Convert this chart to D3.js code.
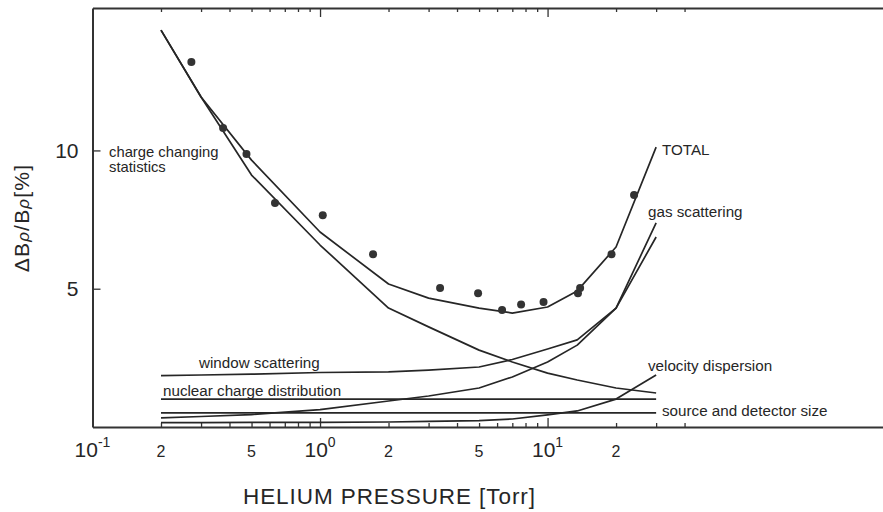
<!DOCTYPE html>
<html>
<head>
<meta charset="utf-8">
<script src="https://cdn.jsdelivr.net/npm/d3@7"></script>
<style>
  html, body { margin: 0; padding: 0; background: #fff; }
  svg { display: block; font-family: "Liberation Sans", Arial, Helvetica, sans-serif; }
</style>
</head>
<body>
<svg id="chart" width="883" height="512"></svg>
<script>
// ---------------- data ----------------
const pressure = [0.2, 0.3, 0.5, 1, 2, 3, 5, 7, 10, 13.5, 20, 30];           // Torr
const totalRes = [14.35, 11.93, 9.65, 7.05, 5.17, 4.66, 4.30, 4.12, 4.34, 4.92, 6.51, 10.12];
const chargeChanging = [14.35, 11.93, 9.11, 6.58, 4.30, 3.62, 2.78, 2.35, 1.95, 1.70, 1.41, 1.23];
const windowScattering = [1.86, 1.88, 1.91, 1.97, 1.99, 2.06, 2.17, 2.44, 2.82, 3.15, 4.30, 7.38];
const gasScattering = [0.33, 0.38, 0.45, 0.63, 0.94, 1.12, 1.41, 1.81, 2.35, 2.96, 4.30, 6.87];
const nuclearCharge = [1.01, 1.01, 1.01, 1.01, 1.01, 1.01, 1.01, 1.01, 1.01, 1.01, 1.01, 1.01];
const sourceDetector = [0.51, 0.51, 0.51, 0.51, 0.51, 0.51, 0.51, 0.51, 0.51, 0.51, 0.51, 0.51];
const velocityDispersion = [0.16, 0.16, 0.17, 0.17, 0.18, 0.20, 0.23, 0.29, 0.44, 0.58, 1.01, 1.88];

const measuredP = [0.272, 0.375, 0.475, 0.634, 1.028, 1.71, 3.37, 4.95, 6.31, 7.65, 9.6, 13.6, 13.9, 19.1, 24.0];
const measuredV = [13.20, 10.81, 9.87, 8.10, 7.66, 6.25, 5.03, 4.84, 4.23, 4.43, 4.52, 4.84, 5.03, 6.25, 8.39];

const xMinorTicks = [0.2, 0.3, 0.4, 0.5, 0.6, 0.7, 0.8, 0.9, 2, 3, 4, 5, 6, 7, 8, 9, 20, 30, 40];
const xMajorTicks = [1, 10];
const xDecadeLabels = [{v: 0.1, e: "-1"}, {v: 1, e: "0"}, {v: 10, e: "1"}];
const xDigitLabels = [{v: 0.2, t: "2"}, {v: 0.5, t: "5"}, {v: 2, t: "2"}, {v: 5, t: "5"}, {v: 20, t: "2"}];
const yTicks = [5, 10];

const seriesNames = ["TOTAL", "charge changing statistics", "window scattering", "gas scattering",
  "nuclear charge distribution", "source and detector size", "velocity dispersion"];
const seriesValues = [totalRes, chargeChanging, windowScattering, gasScattering,
  nuclearCharge, sourceDetector, velocityDispersion];

// ---------------- layout ----------------
const W = 883, H = 512;
const mLeft = 92.5, mTop = 8, mBottom = 427;
const ink = "#262626";

const x = d3.scaleLog().domain([0.1, 298]).range([mLeft, W]);
const y = d3.scaleLinear().domain([0, 15.15]).range([mBottom, mTop]);

const svg = d3.select("#chart");

// frame: left, top, bottom axes
const gBottom = svg.append("g").attr("transform", `translate(0,${mBottom})`);
gBottom.call(d3.axisBottom(x).tickValues(xMinorTicks).tickSize(-4).tickSizeOuter(0).tickFormat(""));
gBottom.append("g").call(d3.axisBottom(x).tickValues(xMajorTicks).tickSize(-9).tickSizeOuter(0).tickFormat(""))
  .select(".domain").remove();

const gTop = svg.append("g").attr("transform", `translate(0,${mTop})`);
gTop.call(d3.axisTop(x).tickValues(xMinorTicks).tickSize(-4).tickSizeOuter(0).tickFormat(""));
gTop.append("g").call(d3.axisTop(x).tickValues(xMajorTicks).tickSize(-9).tickSizeOuter(0).tickFormat(""))
  .select(".domain").remove();

const gLeft = svg.append("g").attr("transform", `translate(${mLeft},0)`);
gLeft.call(d3.axisLeft(y).tickValues(yTicks).tickSize(-8).tickSizeOuter(0).tickPadding(14).tickFormat(d3.format("d")));
gLeft.selectAll("text").attr("font-size", 21).attr("fill", ink)
  .attr("font-family", '"Liberation Sans", Arial, sans-serif');

svg.selectAll(".domain").attr("stroke", "#333").attr("stroke-width", 2);
svg.selectAll(".tick line").attr("stroke", "#333").attr("stroke-width", 1.3);

// x tick labels
xDecadeLabels.forEach(d => {
  const t = svg.append("text").attr("x", x(d.v)).attr("y", 457)
    .attr("text-anchor", "middle").attr("font-size", 21).attr("fill", ink);
  t.append("tspan").text("10");
  t.append("tspan").attr("dy", -10).attr("font-size", 14).text(d.e);
});
xDigitLabels.forEach(d => {
  svg.append("text").attr("x", x(d.v)).attr("y", 457)
    .attr("text-anchor", "middle").attr("font-size", 16).attr("fill", ink).text(d.t);
});

// axis titles
svg.append("text").attr("x", 243).attr("y", 504)
  .attr("font-size", 22.5).attr("fill", ink)
  .attr("textLength", 292).attr("lengthAdjust", "spacing")
  .text("HELIUM PRESSURE [Torr]");

const yt = svg.append("text")
  .attr("transform", "translate(29,218) rotate(-90)")
  .attr("text-anchor", "middle").attr("font-size", 21).attr("fill", ink)
  .attr("letter-spacing", 1.2);
yt.append("tspan").text("ΔB");
yt.append("tspan").attr("font-style", "italic").attr("font-size", 17).text("ρ");
yt.append("tspan").text("/B");
yt.append("tspan").attr("font-style", "italic").attr("font-size", 17).text("ρ");
yt.append("tspan").text("[%]");

// curves
const line = d3.line().x((d, i) => x(pressure[i])).y(d => y(d));
svg.append("g").selectAll("path").data(seriesValues).join("path")
  .attr("d", d => line(d))
  .attr("fill", "none").attr("stroke", ink).attr("stroke-width", 1.7)
  .attr("stroke-linejoin", "round")
  .attr("data-name", (d, i) => seriesNames[i]);

// measured points
svg.append("g").selectAll("circle").data(measuredP).join("circle")
  .attr("cx", d => x(d)).attr("cy", (d, i) => y(measuredV[i]))
  .attr("r", 4).attr("fill", "#333");

// curve annotations
function label(txt, px, py, size) {
  svg.append("text").attr("x", px).attr("y", py).attr("font-size", size || 15.2).attr("fill", ink).text(txt);
}
label("charge changing", 109, 156.5, 14.8);
label("statistics", 109, 172, 14.8);
label("TOTAL", 662, 155);
label("gas scattering", 648, 217);
label("window scattering", 199, 367.5);
label("nuclear charge distribution", 163, 396);
label("velocity dispersion", 648, 371);
label("source and detector size", 662, 416);
</script>
</body>
</html>
